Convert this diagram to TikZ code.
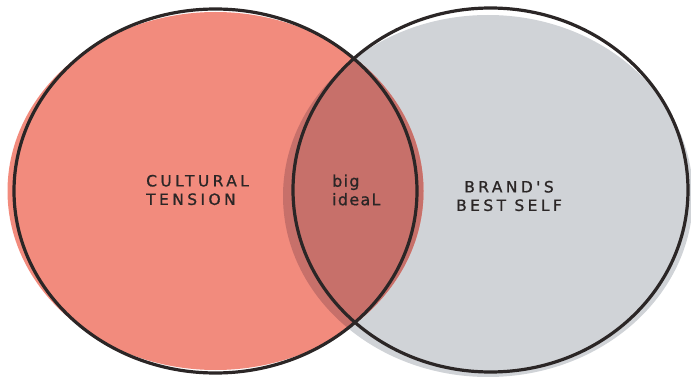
\documentclass[tikz,border=0pt]{standalone}
\usepackage{fontspec}
\newfontfamily\handfont[LetterSpace=22,FakeBold=1]{DejaVu Sans}
\newfontfamily\smallhand[LetterSpace=8,FakeBold=1]{DejaVu Sans}
\definecolor{tensionred}{HTML}{F28B7D}
\definecolor{brandgray}{HTML}{D0D3D7}
\definecolor{ideared}{HTML}{C7706A}
\definecolor{inkline}{HTML}{2B2626}
\begin{document}
\begin{tikzpicture}[x=1pt,y=-1pt,
  outline/.style={draw=inkline,line width=3.2pt},
  hand/.style={font=\handfont\fontsize{15.5}{18.5}\selectfont,text=inkline,inner sep=0pt}]
  \useasboundingbox (0,0) rectangle (691,377);
  \fill[brandgray] (488,196) ellipse (205 and 181);
  \fill[tensionred] (215.5,191) ellipse (208 and 179);
  \begin{scope}
    \clip (488,196) ellipse (205 and 181);
    \fill[ideared] (215.5,191) ellipse (208 and 179);
  \end{scope}
  \draw[outline] (215.5,191) ellipse (201.5 and 182);
  \draw[outline] (490.5,190) ellipse (197.5 and 182);
  \node[hand,align=left,anchor=west] (culture) at (146,190) {CULTURAL\\TENSION};
  \node[hand,font=\smallhand\fontsize{16}{18.5}\selectfont,align=left,anchor=west] (bigidea) at (332,190) {big\\ideaL};
  \node[hand,align=center] (brand) at (509,196) {BRAND'S\\BEST SELF};
\end{tikzpicture}
\end{document}
